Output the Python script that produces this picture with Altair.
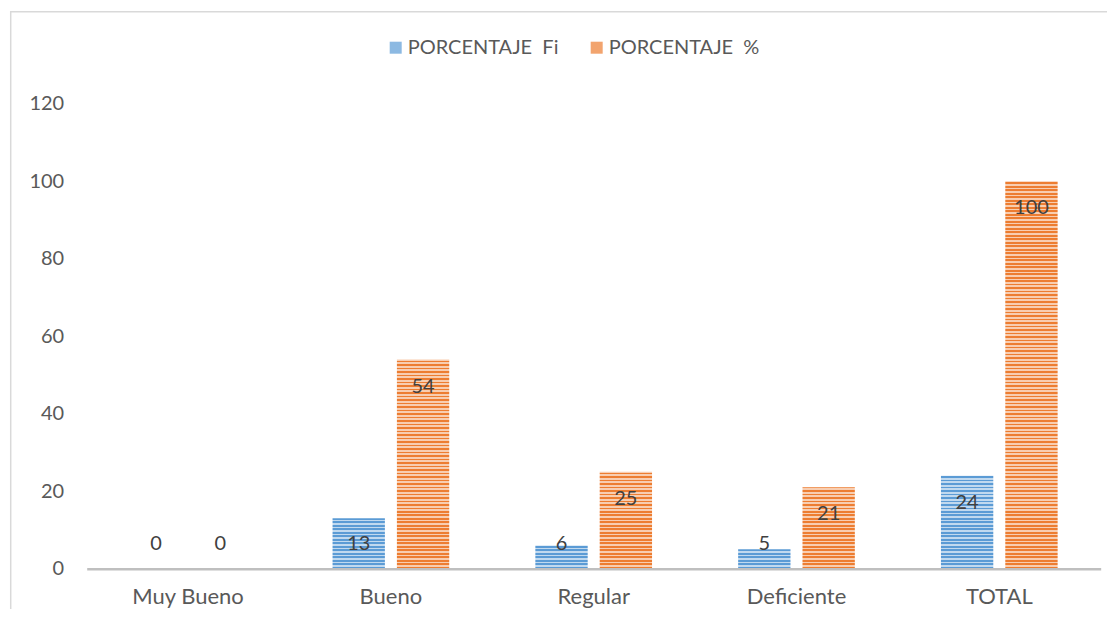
import altair as alt
import pandas as pd

categories = ["Muy Bueno", "Bueno", "Regular", "Deficiente", "TOTAL"]
fi_values = [0, 13, 6, 5, 24]
pct_values = [0, 54, 25, 21, 100]
series_names = ["PORCENTAJE\u00a0 Fi", "PORCENTAJE\u00a0 %"]
series_colors = ["#5B9BD5", "#ED7D31"]
y_ticks = [0, 20, 40, 60, 80, 100, 120]

rows = []
for c, f, p in zip(categories, fi_values, pct_values):
    rows.append({"cat": c, "serie": series_names[0], "valor": f})
    rows.append({"cat": c, "serie": series_names[1], "valor": p})
df = pd.DataFrame(rows)

W, H = 1014, 465
FONT = "Lato"

x = alt.X("cat:N", sort=categories,
          scale=alt.Scale(paddingInner=0.4246, paddingOuter=0.2123),
          axis=alt.Axis(title=None, labelAngle=0, ticks=False, domainColor="#bfbfbf",
                        domainWidth=2.5, labelFontSize=22, labelColor="#595959",
                        labelFont=FONT, labelPadding=18, zindex=1))
xoff = alt.XOffset("serie:N", sort=series_names,
                   scale=alt.Scale(domain=series_names, paddingInner=0.1866, paddingOuter=0))
y = alt.Y("valor:Q", scale=alt.Scale(domain=[0, 120]),
          axis=alt.Axis(values=y_ticks, title=None, grid=False, domain=False, ticks=False,
                        labelFontSize=20, labelColor="#595959", labelPadding=23, labelFont=FONT))
color = alt.Color("serie:N", sort=series_names,
                  scale=alt.Scale(domain=series_names, range=series_colors),
                  legend=alt.Legend(title=None, orient="none", direction="horizontal",
                                    legendX=299, legendY=-66, symbolType="square",
                                    symbolSize=144, symbolOpacity=0.7, symbolStrokeWidth=0,
                                    labelFontSize=20, labelFont=FONT, labelColor="#595959",
                                    labelOffset=2, columnPadding=28))

bars = alt.Chart(df).mark_bar().encode(x=x, xOffset=xoff, y=y, color=color)

# horizontal stripe texture (white translucent lines; invisible on white background)
n = 133
stops = []
for i in range(n):
    a = i / n
    b = (i + 0.5) / n
    c = (i + 1) / n
    stops += [
        alt.GradientStop(offset=a, color="rgba(255,255,255,0.62)"),
        alt.GradientStop(offset=b, color="rgba(255,255,255,0.62)"),
        alt.GradientStop(offset=b, color="rgba(255,255,255,0)"),
        alt.GradientStop(offset=min(c, 1.0), color="rgba(255,255,255,0)"),
    ]
stripe_grad = alt.LinearGradient(gradient="linear", stops=stops, x1=0, x2=0, y1=0, y2=1)
stripes = alt.Chart(pd.DataFrame({"k": [0]})).mark_rect(fill=stripe_grad, strokeWidth=0).encode(
    x=alt.value(0), x2=alt.value(W), y=alt.datum(120), y2=alt.datum(0)
)

labels = alt.Chart(df).transform_calculate(
    ly="max(datum.valor - 7, 6.3)"
).mark_text(fontSize=20, font=FONT, color="#404040", baseline="middle").encode(
    x=x, xOffset=xoff, y=alt.Y("ly:Q"), text="valor:Q"
)

frame = alt.Chart(pd.DataFrame({"k": [0]})).mark_rect(
    fill="transparent", stroke="#d9d9d9", strokeWidth=1.5
).encode(x=alt.value(-76), x2=alt.value(W + 60), y=alt.value(-92), y2=alt.value(H + 120))

chart = alt.layer(frame, bars, stripes, labels).properties(
    width=W, height=H,
    background="white",
    autosize=alt.AutoSizeParams(type="none"),
    padding={"left": 78.7, "top": 95.7, "right": 6, "bottom": 40},
).configure_view(strokeWidth=0, stroke="transparent")

chart.save("out.html", embed_options={"renderer": "svg", "actions": False})
